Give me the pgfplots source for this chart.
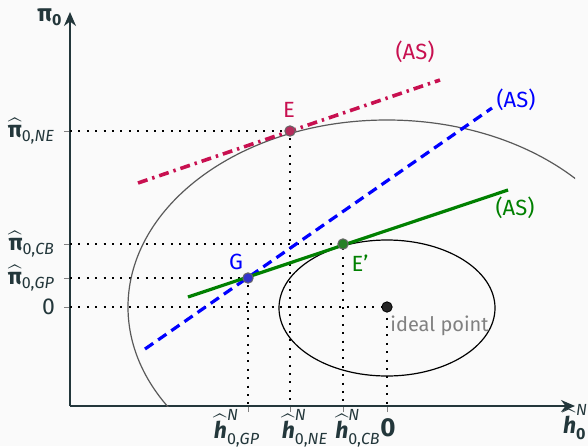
\documentclass[border=0pt]{standalone}
\usepackage{fontspec}
\setmainfont{Fira Sans}
\usepackage{amsmath}
\usepackage{pgfplots}
\pgfplotsset{compat=1.18}
\usetikzlibrary{arrows.meta,backgrounds}
\definecolor{axiscol}{HTML}{23373B}
\definecolor{asred}{RGB}{200,16,80}
\definecolor{asblue}{RGB}{0,0,255}
\definecolor{asgreen}{RGB}{0,128,0}
\definecolor{bgc}{HTML}{FAFAFA}
\newcommand{\hh}[1]{$\widehat{\text{\bfseries\itshape h}}^{\text{\itshape N}}_{\text{0,\itshape #1}}$}
\newcommand{\pp}[1]{$\widehat{\text{\bfseries π}}_{\text{0,\itshape #1}}$}
\begin{document}
\begin{tikzpicture}
\begin{axis}[
  scale only axis, width=252.5pt, height=197pt,
  xmin=70, xmax=575, ymin=40, ymax=434,
  axis lines=left,
  axis line style={axiscol, line width=1pt, -{Stealth[length=7pt,width=6pt]}},
  xtick={248,290,343,387},
  xticklabels={},
  ytick={139,168,202,315},
  yticklabels={0,\pp{GP},\pp{CB},\pp{NE}},
  tick align=outside, major tick length=3pt,
  tick style={gray, line width=0.5pt},
  ticklabel style={text=axiscol, font=\fontsize{11.5}{14}\selectfont},
  yticklabel style={xshift=-1pt},
  clip=false,
]
\coordinate (bl) at (axis cs:0,0);
\coordinate (tr) at (axis cs:588,446);
% dotted guide lines
\addplot[black, line width=1pt, dash pattern=on 1pt off 3.2pt] coordinates {(70,315) (290,315) (290,40)};
\addplot[black, line width=1pt, dash pattern=on 1pt off 3.2pt] coordinates {(70,202) (343,202) (343,40)};
\addplot[black, line width=1pt, dash pattern=on 1pt off 3.2pt] coordinates {(70,168) (248,168) (248,40)};
\addplot[black, line width=1pt, dash pattern=on 1pt off 3.2pt] coordinates {(70,139) (387,139) (387,40)};
% indifference curves
\begin{scope}
\clip (axis cs:70,40) rectangle (axis cs:575,434);
\draw[black!65, line width=0.6pt] (axis cs:387,139) ellipse [x radius=259, y radius=187];
\draw[black, line width=0.6pt] (axis cs:387,138) ellipse [x radius=108, y radius=68];
\end{scope}
% AS lines
\addplot[asred, line width=1.8pt, dash pattern=on 5pt off 2.5pt on 1.2pt off 2.5pt] coordinates {(138,263) (440,366)};
\addplot[asblue, line width=1.6pt, dash pattern=on 5pt off 3pt] coordinates {(145,97) (492,338)};
\addplot[asgreen, line width=1.6pt] coordinates {(188,149) (508,256)};
% points
\addplot[only marks, mark=*, mark size=2.6pt, mark options={fill=asred!75!gray, draw=black!60, line width=0.5pt}] coordinates {(290,315)};
\addplot[only marks, mark=*, mark size=2.6pt, mark options={fill=asblue!60!gray, draw=black!60, line width=0.5pt}] coordinates {(248,168)};
\addplot[only marks, mark=*, mark size=2.6pt, mark options={fill=asgreen!70!gray, draw=black!60, line width=0.5pt}] coordinates {(343,202)};
\addplot[only marks, mark=*, mark size=2.6pt, mark options={fill=black!85, draw=black}] coordinates {(387,139)};
% x tick labels
\begin{scope}[every node/.style={text=axiscol, font=\fontsize{11.5}{14}\selectfont, anchor=north, inner sep=0pt, yshift=-1.5pt}]
\node at (axis cs:237,40) {\hh{GP}};
\node at (axis cs:305,40) {\hh{NE}};
\node at (axis cs:358,40) {\hh{CB}};
\node[font=\fontsize{13}{15}\selectfont, yshift=-4.5pt] at (axis cs:388,40) {$\text{\bfseries 0}$};
\end{scope}
% labels
\node[text=asred, font=\fontsize{11}{13}\selectfont] at (axis cs:415,394) {(AS)};
\node[text=asblue, font=\fontsize{11}{13}\selectfont] at (axis cs:516,346) {(AS)};
\node[text=asgreen, font=\fontsize{11}{13}\selectfont] at (axis cs:515,238) {(AS)};
\node[text=asred, font=\fontsize{11}{13}\selectfont] at (axis cs:289,336) {E};
\node[text=asblue, font=\fontsize{11}{13}\selectfont] at (axis cs:236,184) {G};
\node[text=asgreen, font=\fontsize{11}{13}\selectfont] at (axis cs:360,183) {E'};
\node[text=gray, anchor=west, inner sep=0pt] at (axis cs:390,120) {ideal point};
\node[text=axiscol, font=\fontsize{12}{14}\selectfont] at (axis cs:50,429) {$\text{\bfseries π}_{\text{\bfseries 0}}$};
\node[text=axiscol, anchor=west, font=\fontsize{11.5}{14}\selectfont] at (axis cs:556,24) {$\widehat{\text{\bfseries\itshape h}}^{\text{\itshape N}}_{\text{\bfseries 0}}$};
\end{axis}
\begin{scope}[on background layer]
\fill[bgc] (bl) rectangle (tr);
\end{scope}
\pgfresetboundingbox
\path[use as bounding box] (bl) rectangle (tr);
\end{tikzpicture}
\end{document}
